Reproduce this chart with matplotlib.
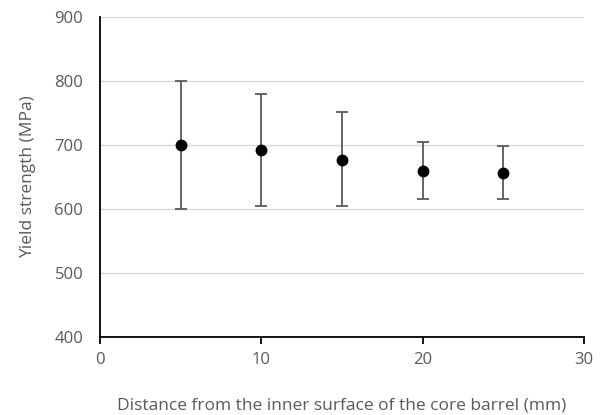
import matplotlib
matplotlib.use('Agg')
import matplotlib.pyplot as plt

distance = [5, 10, 15, 20, 25]
strength = [700, 692, 677, 660, 656]
upper = [800, 779, 751, 704, 698]
lower = [600, 604, 605, 616, 615]

err_lo = [s - l for s, l in zip(strength, lower)]
err_hi = [u - s for s, u in zip(strength, upper)]

plt.rcParams['font.family'] = ['Open Sans', 'DejaVu Sans']
text_col = '#595959'

fig = plt.figure(figsize=(6.04, 4.15), dpi=100)
ax = fig.add_axes([0.1656, 0.188, 0.8014, 0.771])

ax.errorbar(distance, strength, yerr=[err_lo, err_hi], fmt='o', color='black',
            markersize=7.5, ecolor='#595959', elinewidth=1.3, capsize=4, capthick=1.3,
            zorder=3)

ax.set_xlim(0, 30)
ax.set_ylim(400, 900)
ax.set_xticks([0, 10, 20, 30])
ax.set_yticks(range(400, 901, 100))
ax.yaxis.grid(True, color='#d9d9d9', linewidth=1.0)
ax.set_axisbelow(True)

for side in ['top', 'right']:
    ax.spines[side].set_visible(False)
ax.spines['left'].set_linewidth(1.3)
ax.spines['bottom'].set_linewidth(1.3)
ax.tick_params(axis='x', length=5, width=1.3, direction='out', colors='black',
               labelcolor=text_col, labelsize=12, pad=6)
ax.tick_params(axis='y', length=0, labelcolor=text_col, labelsize=12, pad=12)

ax.set_xlabel('Distance from the inner surface of the core barrel (mm)',
              color=text_col, fontsize=12.5, labelpad=21)
ax.set_ylabel('Yield strength (MPa)', color=text_col, fontsize=12.5, labelpad=13)

fig.savefig('out.png', dpi=100)
